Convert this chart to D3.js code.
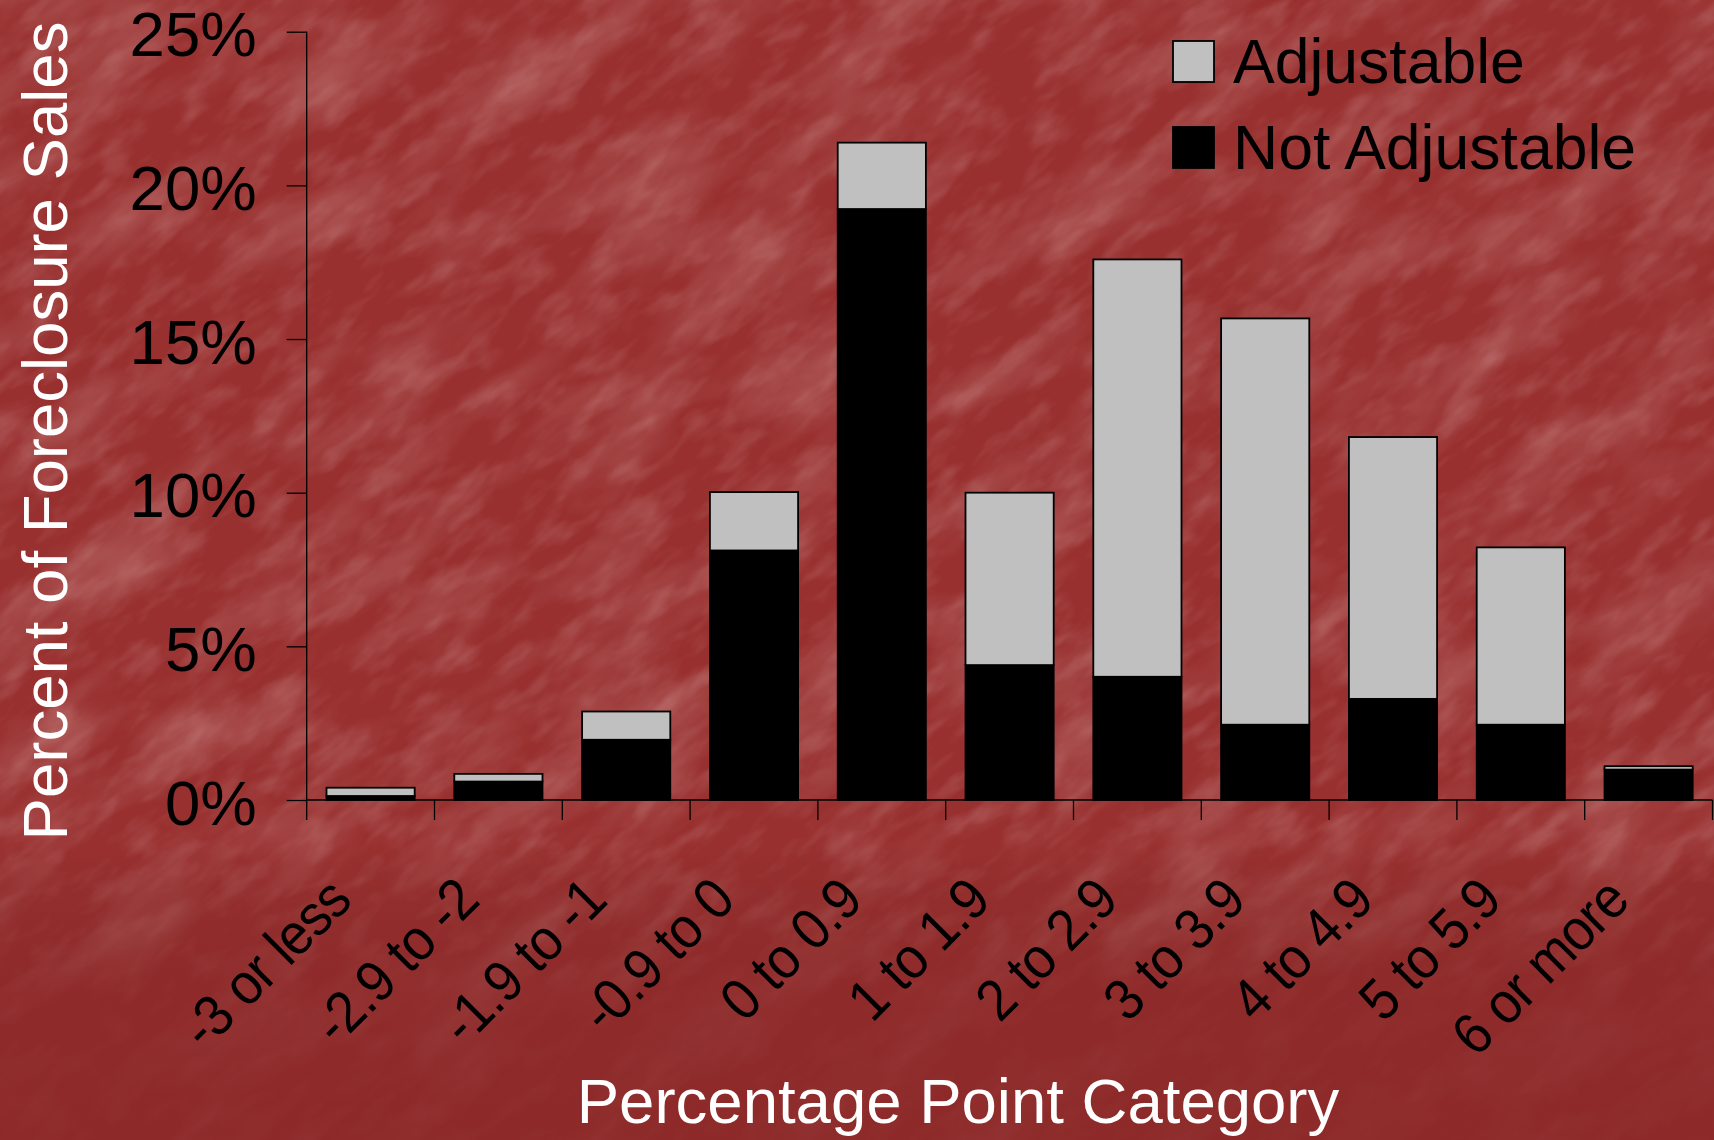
<!DOCTYPE html>
<html>
<head>
<meta charset="utf-8">
<script src="https://cdn.jsdelivr.net/npm/d3@7"></script>
<style>
  html, body { margin: 0; padding: 0; background: #952c2f; }
  svg { display: block; }
  text { font-family: "Liberation Sans", Arial, sans-serif; }
</style>
</head>
<body>
<svg id="chart" width="1714" height="1140"></svg>
<script>
// Spread between note rate and market rate, in percentage points
const categories = ["-3 or less", "-2.9 to -2", "-1.9 to -1", "-0.9 to 0", "0 to 0.9",
                    "1 to 1.9", "2 to 2.9", "3 to 3.9", "4 to 4.9", "5 to 5.9", "6 or more"];
// Share of foreclosure sales (%), by loan type
const notAdjustable = [0.13, 0.60, 1.96, 8.12, 19.23, 4.39, 4.01, 2.45, 3.29, 2.45, 0.99];
const adjustable    = [0.27, 0.25, 0.92, 1.90, 2.16, 5.61, 13.58, 13.22, 8.52, 5.77, 0.11];
const yTicks = [0, 5, 10, 15, 20, 25];
const seriesNames = ["Not Adjustable", "Adjustable"];

const rows = categories.map((c, i) => ({
  category: c,
  "Not Adjustable": notAdjustable[i],
  "Adjustable": adjustable[i]
}));

const W = 1714, H = 1140;
const svg = d3.select("#chart");
const defs = svg.append("defs");

// ---- textured red backdrop ----
const grad = defs.append("linearGradient")
  .attr("id", "shade").attr("x1", 0).attr("y1", 0).attr("x2", 0).attr("y2", 1);
grad.append("stop").attr("offset", "0").attr("stop-color", "#000").attr("stop-opacity", 0);
grad.append("stop").attr("offset", "0.74").attr("stop-color", "#000").attr("stop-opacity", 0);
grad.append("stop").attr("offset", "0.86").attr("stop-color", "#4a0006").attr("stop-opacity", 0.12);
grad.append("stop").attr("offset", "1").attr("stop-color", "#4a0006").attr("stop-opacity", 0.14);

const fade = defs.append("linearGradient")
  .attr("id", "fade").attr("x1", 0).attr("y1", 0).attr("x2", 0).attr("y2", 1);
fade.append("stop").attr("offset", "0").attr("stop-color", "#fff");
fade.append("stop").attr("offset", "0.72").attr("stop-color", "#fff");
fade.append("stop").attr("offset", "0.88").attr("stop-color", "#fff").attr("stop-opacity", 0.25);
fade.append("stop").attr("offset", "1").attr("stop-color", "#fff").attr("stop-opacity", 0.2);
defs.append("mask").attr("id", "fadeMask")
  .attr("maskUnits", "userSpaceOnUse").attr("x", 0).attr("y", 0).attr("width", W).attr("height", H)
  .append("rect").attr("width", W).attr("height", H).attr("fill", "url(#fade)");

const grain = defs.append("filter").attr("id", "grain")
  .attr("x", 0).attr("y", 0).attr("width", 1).attr("height", 1);
grain.append("feTurbulence").attr("type", "fractalNoise")
  .attr("baseFrequency", "0.006 0.016").attr("numOctaves", 4).attr("seed", 7);
grain.append("feColorMatrix").attr("type", "matrix")
  .attr("values", "0 0 0 0 1  0 0 0 0 0.85  0 0 0 0 0.85  1.4 0 0 0 -0.58");

const grain2 = defs.append("filter").attr("id", "grain2")
  .attr("x", 0).attr("y", 0).attr("width", 1).attr("height", 1);
grain2.append("feTurbulence").attr("type", "fractalNoise")
  .attr("baseFrequency", "0.02 0.05").attr("numOctaves", 3).attr("seed", 19);
grain2.append("feColorMatrix").attr("type", "matrix")
  .attr("values", "0 0 0 0 1  0 0 0 0 0.85  0 0 0 0 0.85  1.6 0 0 0 -0.75");

svg.append("rect").attr("width", W).attr("height", H).attr("fill", "#98302f");
const tex = svg.append("g").attr("mask", "url(#fadeMask)")
  .append("g").attr("transform", `translate(${W / 2},${H / 2}) rotate(-38)`);
tex.append("rect").attr("x", -1300).attr("y", -1300).attr("width", 2600).attr("height", 2600)
  .attr("filter", "url(#grain)").attr("opacity", 0.32);
tex.append("rect").attr("x", -1300).attr("y", -1300).attr("width", 2600).attr("height", 2600)
  .attr("filter", "url(#grain2)").attr("opacity", 0.22);
svg.append("rect").attr("width", W).attr("height", H).attr("fill", "url(#shade)");

// ---- scales ----
const plotLeft = 306.7, plotRight = 1712.5, plotTop = 31.7, plotBottom = 800;
const x = d3.scaleBand().domain(categories).range([plotLeft, plotRight])
  .paddingInner(0.31).paddingOuter(0.155);
const y = d3.scaleLinear().domain([0, 25]).range([plotBottom, plotTop]);
const color = d3.scaleOrdinal().domain(seriesNames).range(["#000000", "#c0c0c0"]);

// ---- bars ----
const stacked = d3.stack().keys(seriesNames)(rows);
svg.append("g").selectAll("g").data(stacked).join("g")
  .attr("fill", d => color(d.key))
  .selectAll("rect").data(d => d).join("rect")
    .attr("x", d => x(d.data.category))
    .attr("width", x.bandwidth())
    .attr("y", d => y(d[1]))
    .attr("height", d => y(d[0]) - y(d[1]))
    .attr("stroke", "#000").attr("stroke-width", 1.8);

// ---- y axis ----
const yAxis = svg.append("g").attr("transform", `translate(${plotLeft},0)`)
  .call(d3.axisLeft(y).tickValues(yTicks).tickSize(20).tickPadding(30)
    .tickFormat(d => d + "%"));
yAxis.select(".domain").remove();
yAxis.selectAll(".tick line").attr("stroke", "#000").attr("stroke-width", 1.3);
yAxis.selectAll(".tick text").attr("fill", "#000").attr("font-size", 63.5)
  .attr("dy", "0.38em")
  .style("font-family", "'Liberation Sans', Arial, sans-serif");
svg.append("line").attr("x1", plotLeft).attr("x2", plotLeft)
  .attr("y1", plotTop).attr("y2", plotBottom + 20)
  .attr("stroke", "#000").attr("stroke-width", 1.3);

// ---- x axis: baseline, category boundary ticks, rotated labels ----
const bounds = d3.range(categories.length + 1).map(i => plotLeft + i * x.step());
svg.append("line").attr("x1", plotLeft).attr("x2", plotRight)
  .attr("y1", plotBottom).attr("y2", plotBottom)
  .attr("stroke", "#000").attr("stroke-width", 1.3);
svg.append("g").selectAll("line").data(bounds.slice(1)).join("line")
  .attr("x1", d => d).attr("x2", d => d)
  .attr("y1", plotBottom).attr("y2", plotBottom + 20)
  .attr("stroke", "#000").attr("stroke-width", 1.3);

svg.append("g").selectAll("text").data(categories).join("text")
  .attr("transform", d => `translate(${x(d) + x.bandwidth() / 2 - 17},${plotBottom + 103}) rotate(-45) scale(0.92,1)`)
  .attr("text-anchor", "end")
  .attr("font-size", 58)
  .attr("letter-spacing", -1)
  .attr("fill", "#000")
  .text(d => d);

// ---- axis titles ----
svg.append("text")
  .attr("transform", `translate(67,431) rotate(-90)`)
  .attr("text-anchor", "middle").attr("font-size", 63.5).attr("fill", "#fff")
  .text("Percent of Foreclosure Sales");
svg.append("text")
  .attr("x", 958).attr("y", 1123)
  .attr("text-anchor", "middle").attr("font-size", 63.5).attr("fill", "#fff")
  .text("Percentage Point Category");

// ---- legend ----
const legendOrder = ["Adjustable", "Not Adjustable"];
const legend = svg.append("g").selectAll("g").data(legendOrder).join("g")
  .attr("transform", (d, i) => `translate(1173,${41 + i * 86})`);
legend.append("rect").attr("width", 41).attr("height", 41)
  .attr("fill", d => color(d)).attr("stroke", "#000").attr("stroke-width", 1.8);
legend.append("text").attr("x", 60).attr("y", 42).attr("font-size", 62.5)
  .attr("fill", "#000").text(d => d);
</script>
</body>
</html>
